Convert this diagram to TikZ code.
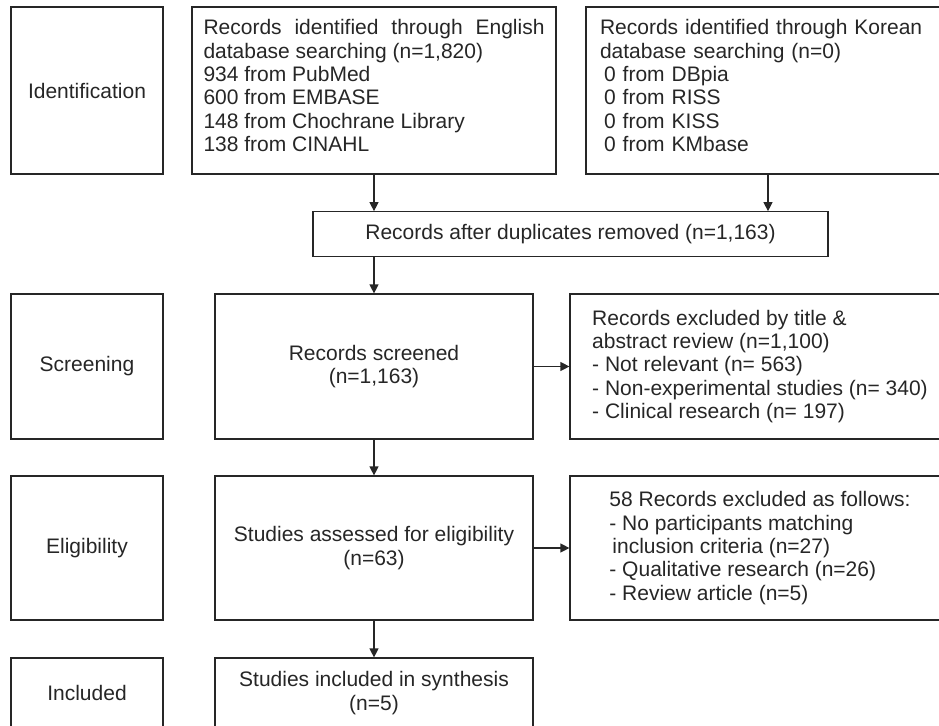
\documentclass[tikz,border=0pt]{standalone}
\usepackage{fontspec}
\setmainfont{Liberation Sans}
\usetikzlibrary{arrows.meta}
\definecolor{ink}{HTML}{262626}
\begin{document}
\begin{tikzpicture}
  [x=1pt,y=-1pt,
   every node/.style={font=\fontsize{21}{23.3}\selectfont,text=ink},
   stage/.style={draw=ink,line width=1.2pt,inner sep=0pt,minimum width=152pt,align=center},
   flowbox/.style={draw=ink,line width=1.2pt,inner sep=0pt},
   flow/.style={draw=ink,line width=1.2pt,-{Triangle[length=9pt,width=9pt]}}]
        \useasboundingbox (0,0) rectangle (939,725);
        \clip (0,0) rectangle (939,725);
        \node (identification) [stage,minimum height=167pt] at (87,90.5) {Identification};
        \node (screening) [stage,minimum height=145pt] at (87,366.5) {Screening};
        \node (eligibility) [stage,minimum height=144pt] at (87,548) {Eligibility};
        \node (included label) [stage,minimum height=70pt] at (87,693) {Included};
        \node (english search)
          [flowbox,minimum width=364pt,minimum height=167pt,align=left,text depth=10pt]
          at (374,90.5)
          {\makebox[341pt][s]{Records identified through English}\\
           database searching (n=1,820)\\
           934 from PubMed\\
           600 from EMBASE\\
           148 from Chochrane Library\\
           138 from CINAHL};
        \node (korean search)
          [flowbox,minimum width=364pt,minimum height=167pt,text width=336pt,align=left,text depth=126.5pt]
          at (768,90.5)
          {Records identified through Korean\\
           database searching (n=0)\\
           \hspace*{4pt}0 from DBpia\\
           \hspace*{4pt}0 from RISS\\
           \hspace*{4pt}0 from KISS\\
           \hspace*{4pt}0 from KMbase};
        \node (duplicates)
          [flowbox,minimum width=515pt,minimum height=44.5pt]
          at (570.5,234)
          {Records after duplicates removed (n=1,163)};
        \node (screened)
          [flowbox,minimum width=318pt,minimum height=145pt,align=center]
          at (374,366.5)
          {Records screened\\(n=1,163)};
        \node (title excluded)
          [flowbox,minimum width=380pt,minimum height=145pt,align=left]
          at (760,366.5)
          {Records excluded by title \&\\
           abstract review (n=1,100)\\
           - Not relevant (n= 563)\\
           - Non-experimental studies (n= 340)\\
           - Clinical research (n= 197)};
        \node (assessed)
          [flowbox,minimum width=318pt,minimum height=144pt,align=center]
          at (374,548)
          {Studies assessed for eligibility\\(n=63)};
        \node (full text excluded)
          [flowbox,minimum width=380pt,minimum height=144pt,align=left]
          at (760,548)
          {58 Records excluded as follows:\\
           - No participants matching\\
           \hspace*{3pt}inclusion criteria (n=27)\\
           - Qualitative research (n=26)\\
           - Review article (n=5)};
        \node (synthesis)
          [flowbox,minimum width=318pt,minimum height=70pt,align=center]
          at (374,693)
          {Studies included in synthesis\\(n=5)};
        \draw [flow]
          (english search.south)
          -- (english search.south |- duplicates.north)
        ;
        \draw [flow]
          (korean search.south)
          -- (korean search.south |- duplicates.north)
        ;
        \draw [flow]
          (screened.north |- duplicates.south)
          -- (screened.north)
        ;
        \draw [flow] (screened.east) -- (title excluded.west);
        \draw [flow] (screened.south) -- (assessed.north);
        \draw [flow] (assessed.east) -- (full text excluded.west);
        \draw [flow] (assessed.south) -- (synthesis.north);
      \end{tikzpicture}
\end{document}
